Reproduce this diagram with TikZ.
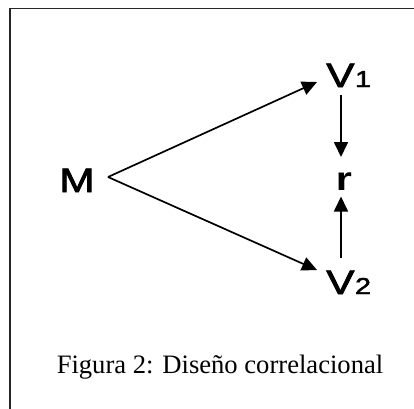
\documentclass[tikz,border=0pt]{standalone}
\usepackage{fontspec}
\usepackage{graphicx}
\setmainfont{Liberation Serif}
\newfontfamily\labelfont[FakeBold=2]{Liberation Sans}
\newfontfamily\rfont{Liberation Sans}
\usetikzlibrary{arrows.meta,calc}

\tikzset{
  lbl/.style={inner sep=0pt, font=\labelfont\fontsize{34}{36}\selectfont},
  arr/.style={line width=1.7pt, -{Triangle[length=15pt,width=14pt]}},
  frame/.style={line width=1.3pt, draw=black!85},
}
% stretched sans label with a small index digit on the baseline
\newcommand{\wide}[1]{\scalebox{1.25}[1]{#1}}
\newcommand{\vlabel}[1]{\wide{V}\hspace{0.5pt}\wide{\fontsize{23}{24}\selectfont #1}}

\begin{document}
\begin{tikzpicture}[x=1pt,y=-1pt]
  \useasboundingbox (0,0) rectangle (414,408);
  \clip (0,0) rectangle (414,408);

  % outer frame (open to the right and bottom)
  \draw[frame] (10,420) -- (10,8.5) -- (420,8.5);

  % labels
  \node[lbl, anchor=base] (M) at (77,192) {\wide{M}};
  \node[lbl, anchor=base west] (V1) at (326,87) {\vlabel{1}};
  \node[inner sep=0pt, anchor=base, font=\rfont\bfseries\fontsize{33}{34}\selectfont] (r) at (344,190) {\scalebox{1.25}[1]{r}};
  \node[lbl, anchor=base west] (V2) at (326,294) {\vlabel{2}};

  % connector end points
  \coordinate (apex) at ($(M.base)+(31,-15)$);
  \coordinate (t1) at ($(V1.base west)+(-9,-5)$);
  \coordinate (t2) at ($(V2.base west)+(-9,-24)$);
  \coordinate (d0) at ($(r.base)+(-3,-95)$);
  \coordinate (d1) at ($(r.base)+(-3,-33)$);
  \coordinate (u0) at ($(r.base)+(-3,68)$);
  \coordinate (u1) at ($(r.base)+(-3,6.5)$);

  % arrows
  \draw[arr] (apex) -- (t1);
  \draw[arr] (apex) -- (t2);
  \draw[arr] (d0) -- (d1);
  \draw[arr] (u0) -- (u1);

  % caption
  \node[inner sep=0pt, anchor=base, font=\fontsize{26.6}{30}\selectfont] (cap) at (220,373)
    {Figura 2: Diseño correlacional};
\end{tikzpicture}
\end{document}
